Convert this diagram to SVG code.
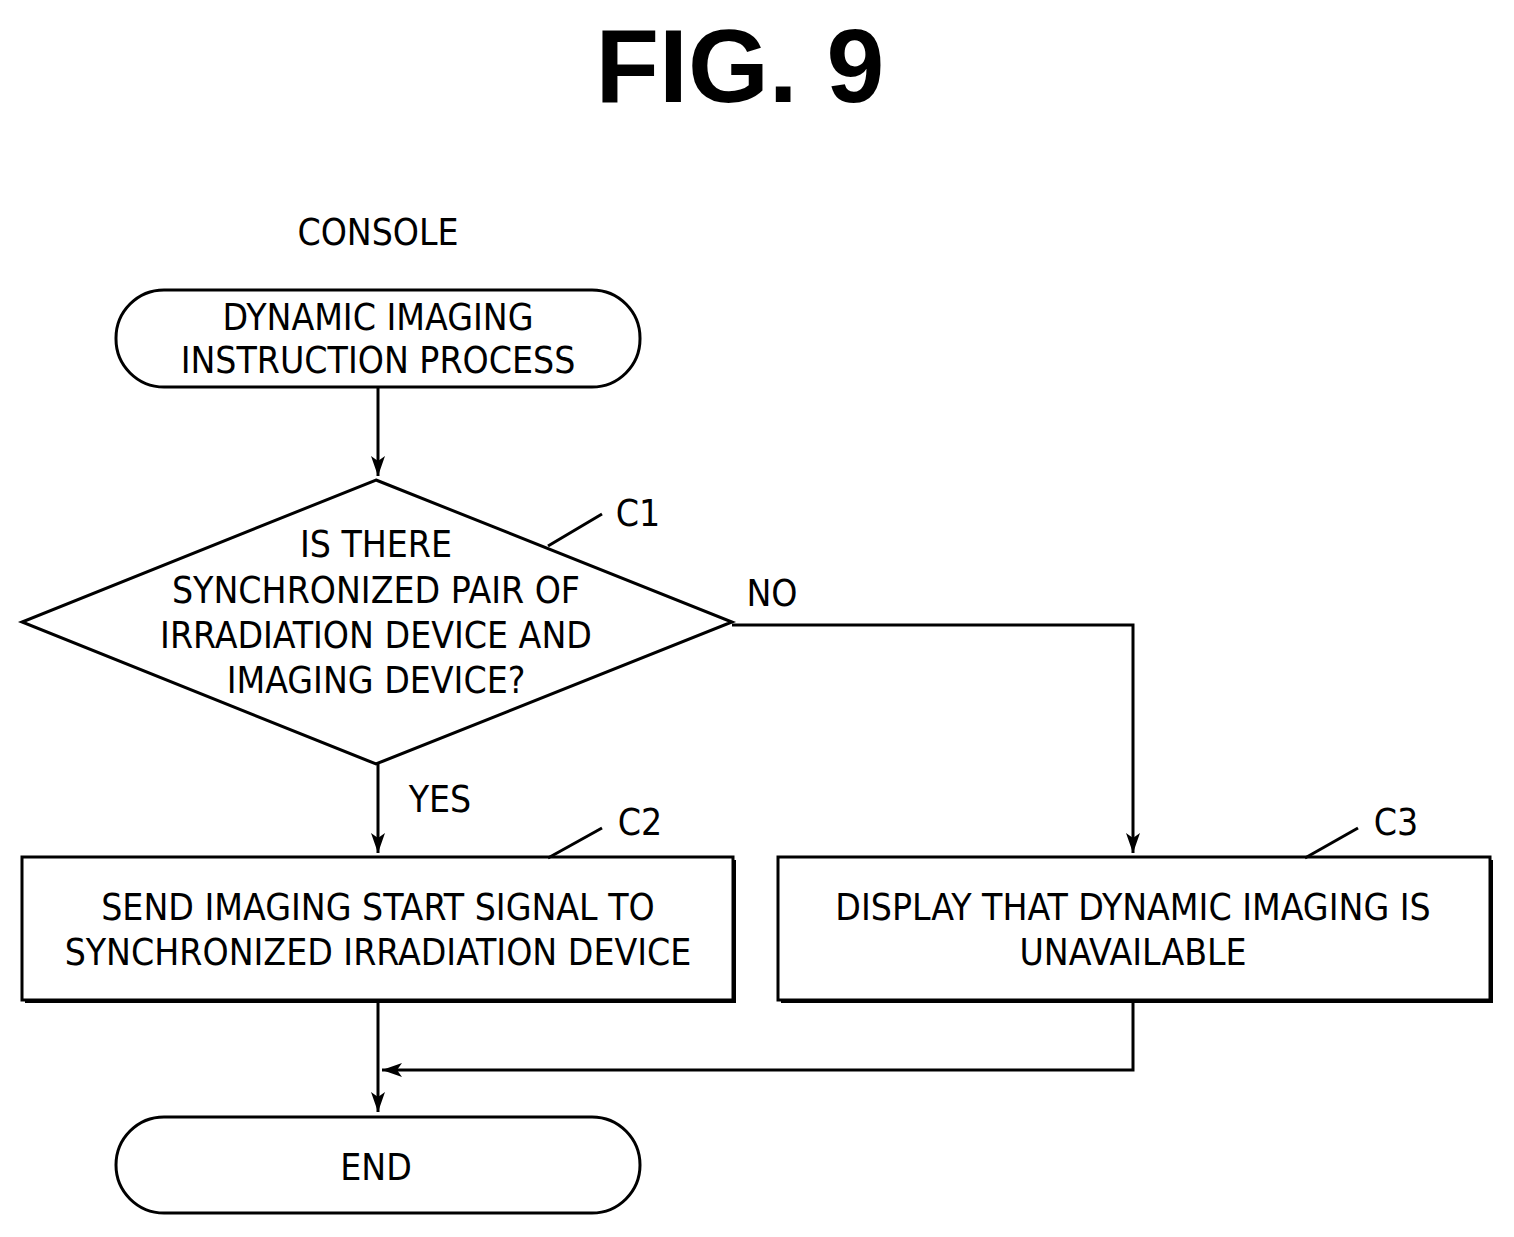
<svg xmlns="http://www.w3.org/2000/svg" width="1514" height="1237" viewBox="0 0 1514 1237">
<defs>
<marker id="a" viewBox="0 0 20 20" refX="20" refY="10" markerWidth="20" markerHeight="20" markerUnits="userSpaceOnUse" orient="auto"><path d="M0,3 L20,10 L0,17 L5,10 Z" fill="#000"/></marker>
</defs>
<style>
text{font-family:"DejaVu Sans Condensed","Liberation Sans",sans-serif;font-size:37px;fill:#000;text-anchor:middle}
.s{fill:#fff;stroke:#000;stroke-width:3}
.l{fill:none;stroke:#000;stroke-width:3}
</style>
<rect width="1514" height="1237" fill="#fff"/>
<text x="740" y="102" style="font-size:104px;font-weight:bold;font-family:'Liberation Sans',sans-serif">FIG. 9</text>
<text x="378" y="245">CONSOLE</text>
<g id="connectors">
<path class="l" d="M378,387 V476" marker-end="url(#a)"/>
<path class="l" d="M378,764 V853" marker-end="url(#a)"/>
<path class="l" d="M732,625 H1133 V853" marker-end="url(#a)"/>
<path class="l" d="M378,1000 V1112" marker-end="url(#a)"/>
<path class="l" d="M1133,1002 V1070 H382" marker-end="url(#a)"/>
<text x="772" y="606">NO</text>
<text x="440" y="812">YES</text>
</g>
<g id="start">
<rect class="s" x="116" y="290" width="524" height="97" rx="48"/>
<text x="378" y="330">DYNAMIC IMAGING</text>
<text x="378" y="373">INSTRUCTION PROCESS</text>
</g>
<g id="C1">
<polygon class="s" points="376,480 732,622 376,764 22,622"/>
<text x="376" y="557">IS THERE</text>
<text x="376" y="603">SYNCHRONIZED PAIR OF</text>
<text x="376" y="648">IRRADIATION DEVICE AND</text>
<text x="376" y="693">IMAGING DEVICE?</text>
<path class="l" stroke-width="2" d="M548,546 L602,514"/>
<text x="638" y="526">C1</text>
</g>
<g id="C2">
<rect x="25" y="860" width="711" height="143" fill="#000"/>
<rect class="s" x="22" y="857" width="711" height="143"/>
<text x="378" y="920">SEND IMAGING START SIGNAL TO</text>
<text x="378" y="965">SYNCHRONIZED IRRADIATION DEVICE</text>
<path class="l" stroke-width="2" d="M548,858 L602,828"/>
<text x="640" y="835">C2</text>
</g>
<g id="C3">
<rect x="781" y="860" width="712" height="143" fill="#000"/>
<rect class="s" x="778" y="857" width="712" height="143"/>
<text x="1133" y="920">DISPLAY THAT DYNAMIC IMAGING IS</text>
<text x="1133" y="965">UNAVAILABLE</text>
<path class="l" stroke-width="2" d="M1305,858 L1358,828"/>
<text x="1396" y="835">C3</text>
</g>
<g id="end">
<rect class="s" x="116" y="1117" width="524" height="96" rx="48"/>
<text x="376" y="1180">END</text>
</g>
</svg>
